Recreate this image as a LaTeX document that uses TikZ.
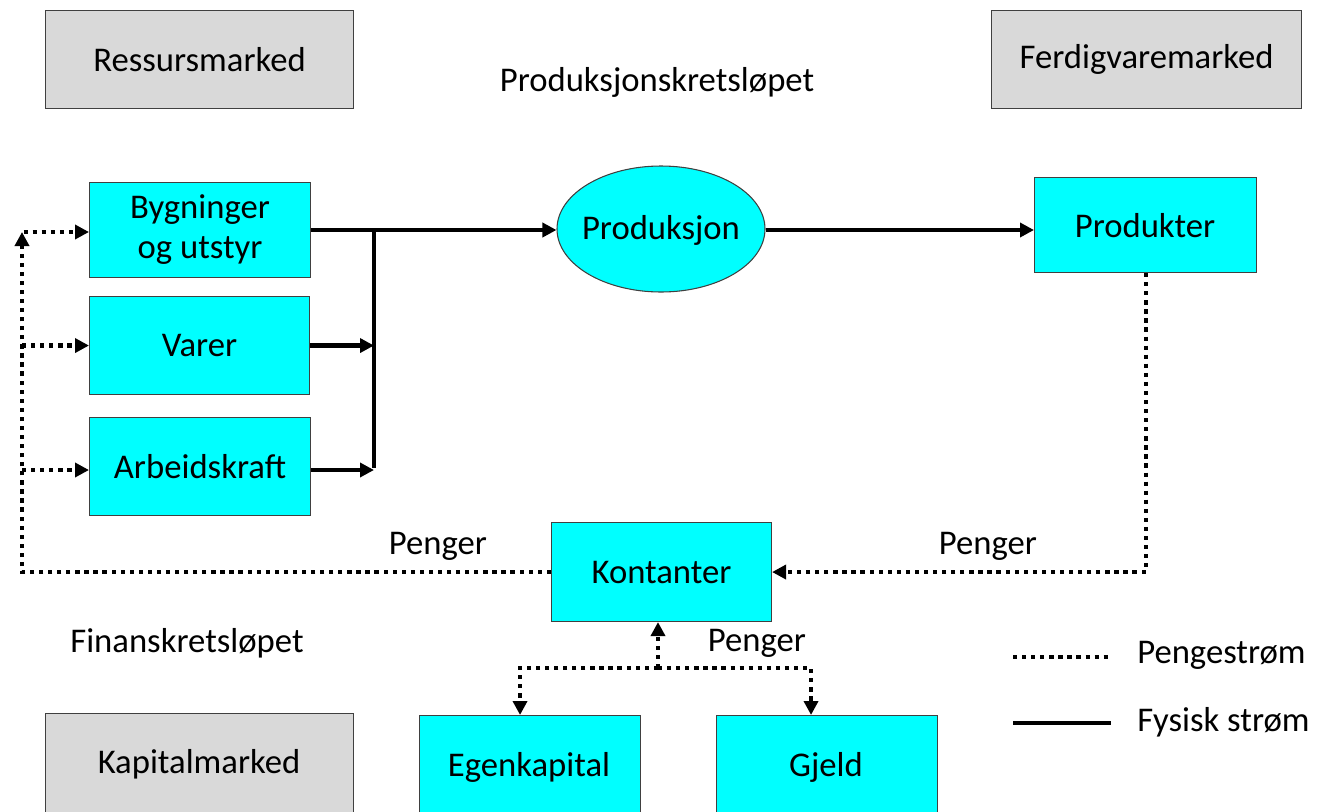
\documentclass[tikz,border=0pt]{standalone}
\usepackage{fontspec}
\setmainfont{Carlito}
\usetikzlibrary{arrows.meta,shapes.geometric}
\definecolor{boxcyan}{HTML}{00FFFF}
\definecolor{boxgray}{HTML}{D9D9D9}
\definecolor{edgegray}{HTML}{404040}
\tikzset{
  base/.style={draw=edgegray, line width=0.8pt, inner sep=0pt, align=center,
    font=\fontsize{26}{30}\selectfont},
  market/.style={base, fill=boxgray, anchor=north west},
  unit/.style={base, fill=boxcyan, anchor=north west},
  label/.style={font=\fontsize{26}{30}\selectfont, inner sep=0pt},
  physical/.style={line width=3.2pt, line cap=butt},
  money/.style={line width=3.2pt, line cap=butt, dash pattern=on 3.2pt off 3.6pt},
  tip/.style={-{Triangle[length=10.5pt,width=10.5pt]}}
}
\begin{document}
\begin{tikzpicture}[x=0.75pt,y=-0.75pt]
\useasboundingbox (0,0) rectangle (1317,811);

% markets
\node[market, minimum width=308*0.75pt, minimum height=98*0.75pt] (res) at (45,10) {Ressursmarked};
\node[market, minimum width=310*0.75pt, minimum height=98*0.75pt] (ferd) at (991,10) {Ferdigvaremarked};
\node[market, minimum width=308*0.75pt, minimum height=120*0.75pt] (kap) at (45,713) {};
\node[label] (kaptxt) at (199,764) {Kapitalmarked};

% titles
\node[label] (prodloop) at (657,82) {Produksjonskretsløpet};
\node[label] (finloop) at (187,643) {Finanskretsløpet};

% resources
\node[unit, minimum width=221*0.75pt, minimum height=95*0.75pt] (byg) at (89,182) {Bygninger\\og utstyr};
\node[unit, minimum width=220*0.75pt, minimum height=98*0.75pt] (varer) at (89,296) {Varer};
\node[unit, minimum width=221*0.75pt, minimum height=98*0.75pt] (arb) at (89,417) {Arbeidskraft};

% production and products
\node[base, ellipse, fill=boxcyan, minimum width=208*0.75pt, minimum height=126*0.75pt] (prod) at (661,229) {};
\node[label] (prodtxt) at (661,230) {Produksjon};
\node[unit, minimum width=222*0.75pt, minimum height=95*0.75pt] (produkt) at (1034,177) {};
\node[label] (produkttxt) at (1145,226) {Produkter};

% finance
\node[unit, minimum width=220*0.75pt, minimum height=99*0.75pt] (kont) at (551,522) {Kontanter};
\node[unit, minimum width=221*0.75pt, minimum height=120*0.75pt] (egen) at (419,715) {};
\node[label] (egentxt) at (529,767) {Egenkapital};
\node[unit, minimum width=221*0.75pt, minimum height=120*0.75pt] (gjeld) at (716,715) {};
\node[label] (gjeldtxt) at (826,767) {Gjeld};

% physical flow into production
\coordinate (join) at (374,230);
\coordinate (joinb) at (374,470);
\draw[physical, tip] (byg.east |- join) -- (prod.west |- join);
\draw[physical] (join) -- ([yshift=1.2pt]joinb);
\draw[physical, tip] (varer.east) -- (varer.east -| join);
\draw[physical, tip] (arb.east |- joinb) -- (joinb);
\draw[physical, tip] (prod.east |- join) -- (produkt.west |- join);

% money from sales to cash
\draw[money, tip] (produkt.south -| 1146,0) |- (kont.east);

% money from cash to resources
\coordinate (left) at (22,232);
\draw[money, tip] (kont.west) -| (left);
\draw[money, tip] ([xshift=1.2pt]left) -- (byg.west |- left);
\draw[money, tip] (left |- varer.west) -- (varer.west);
\draw[money, tip] (left |- joinb) -- (arb.west |- joinb);

% money between cash and capital
\coordinate (split) at (658,668);
\draw[money, tip] (split) -- (kont.south -| split);
\draw[money, tip] (split) -| ([xshift=-7.5pt]egen.north);
\draw[money, tip] (split) -| ([xshift=-12pt]gjeld.north);

% flow labels
\node[label] (p1) at (438,546) {Penger};
\node[label] (p2) at (988,546) {Penger};
\node[label] (p3) at (757,643) {Penger};

% legend
\coordinate (lg1a) at (1013,657);
\coordinate (lg1b) at (1111,657);
\coordinate (lg2a) at (1013,723);
\coordinate (lg2b) at (1111,723);
\draw[money] (lg1a) -- (lg1b);
\draw[physical] (lg2a) -- (lg2b);
\node[label, anchor=west] (lgm) at (1137,655) {Pengestrøm};
\node[label, anchor=west] (lgp) at (1137,722) {Fysisk strøm};
\end{tikzpicture}
\end{document}
